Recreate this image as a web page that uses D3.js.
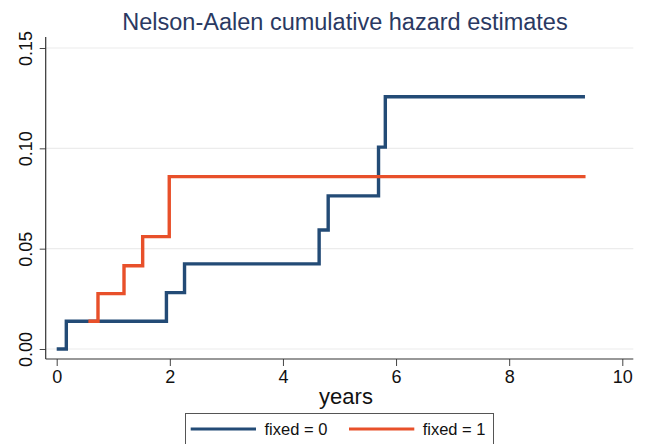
<!DOCTYPE html>
<html>
<head>
<meta charset="utf-8">
<script src="https://cdn.jsdelivr.net/npm/d3@7"></script>
<style>
  html, body { margin: 0; padding: 0; background: #fff; }
  svg { display: block; font-family: "Liberation Sans", Arial, Helvetica, sans-serif; }
</style>
</head>
<body>
<svg id="chart" width="646" height="444"></svg>
<script>
// Nelson-Aalen cumulative hazard, by group (step functions)
const fixed0Times  = [0, 0.17, 1.94, 2.26, 4.64, 4.80, 5.69, 5.81, 9.34];
const fixed0Hazard = [0, 0.0138, 0.0281, 0.0424, 0.0593, 0.0763, 0.1006, 0.1257, 0.1257];
const fixed1Times  = [0.56, 0.73, 1.19, 1.52, 1.99, 9.35];
const fixed1Hazard = [0.0138, 0.0276, 0.0415, 0.0560, 0.0859, 0.0859];

const xTicks = [0, 2, 4, 6, 8, 10];
const yTicks = [0, 0.05, 0.10, 0.15];
const seriesNames = ["fixed = 0", "fixed = 1"];
const seriesColors = ["#234b76", "#e8502a"];

const svg = d3.select("#chart");

// plot region
const plotLeft = 45.7, plotRight = 633.3, plotTop = 37, plotBottom = 359;

const x = d3.scaleLinear().domain([0, 10]).range([56.7, 622.3]);
const y = d3.scaleLinear().domain([0, 0.15]).range([349, 48]);

// horizontal grid lines
svg.append("g").selectAll("line").data(yTicks).join("line")
  .attr("x1", plotLeft).attr("x2", plotRight)
  .attr("y1", d => y(d)).attr("y2", d => y(d))
  .attr("stroke", "#ececec").attr("stroke-width", 1.2);

// title
svg.append("text")
  .attr("x", 345).attr("y", 30)
  .attr("text-anchor", "middle")
  .attr("font-size", 23.5)
  .attr("fill", "#2a3962")
  .text("Nelson-Aalen cumulative hazard estimates");

// x axis
const xAxis = svg.append("g")
  .attr("transform", `translate(0,${plotBottom})`)
  .call(d3.axisBottom(x).tickValues(xTicks).tickFormat(d3.format("d")).tickSize(7).tickPadding(4));
xAxis.select(".domain").remove();
xAxis.selectAll(".tick line").attr("stroke", "#444");
xAxis.selectAll(".tick text").attr("font-size", 18).attr("fill", "#111")
  .attr("font-family", "'Liberation Sans', Arial, sans-serif");
svg.append("line").attr("x1", plotLeft).attr("x2", plotRight).attr("y1", plotBottom).attr("y2", plotBottom)
  .attr("stroke", "#333").attr("stroke-width", 1.2);

// y axis
const yAxis = svg.append("g")
  .attr("transform", `translate(${plotLeft},0)`)
  .call(d3.axisLeft(y).tickValues(yTicks).tickFormat(d3.format(".2f")).tickSize(6).tickPadding(0));
yAxis.select(".domain").remove();
yAxis.selectAll(".tick line").attr("stroke", "#444");
yAxis.selectAll(".tick text")
  .attr("font-size", 18).attr("fill", "#111")
  .attr("font-family", "'Liberation Sans', Arial, sans-serif")
  .attr("text-anchor", "middle")
  .attr("dy", null).attr("x", null)
  .attr("transform", "translate(-13.7,0) rotate(-90)");
svg.append("line").attr("x1", plotLeft).attr("x2", plotLeft).attr("y1", plotTop).attr("y2", plotBottom)
  .attr("stroke", "#333").attr("stroke-width", 1.2);

// axis title
svg.append("text")
  .attr("x", 346).attr("y", 404)
  .attr("text-anchor", "middle")
  .attr("font-size", 22)
  .attr("fill", "#111")
  .text("years");

// step curves
const line = d3.line()
  .x(d => x(d[0]))
  .y(d => y(d[1]))
  .curve(d3.curveStepAfter);

const series = [
  d3.zip(fixed0Times, fixed0Hazard),
  d3.zip(fixed1Times, fixed1Hazard)
];

svg.append("g").selectAll("path").data(series).join("path")
  .attr("d", line)
  .attr("fill", "none")
  .attr("stroke", (d, i) => seriesColors[i])
  .attr("stroke-width", 3.4)
  .attr("stroke-linejoin", "miter");

// legend
const legend = svg.append("g");
legend.append("rect")
  .attr("x", 185.5).attr("y", 413.5).attr("width", 308).attr("height", 40)
  .attr("fill", "#fff").attr("stroke", "#555").attr("stroke-width", 1);

const legendItems = [
  { lx1: 190.7, lx2: 256, tx: 264.5 },
  { lx1: 349, lx2: 414.3, tx: 422.7 }
];
legendItems.forEach((p, i) => {
  legend.append("line")
    .attr("x1", p.lx1).attr("x2", p.lx2).attr("y1", 429).attr("y2", 429)
    .attr("stroke", seriesColors[i]).attr("stroke-width", 3.2);
  legend.append("text")
    .attr("x", p.tx).attr("y", 435)
    .attr("font-size", 16.5).attr("fill", "#111")
    .text(seriesNames[i]);
});
</script>
</body>
</html>
